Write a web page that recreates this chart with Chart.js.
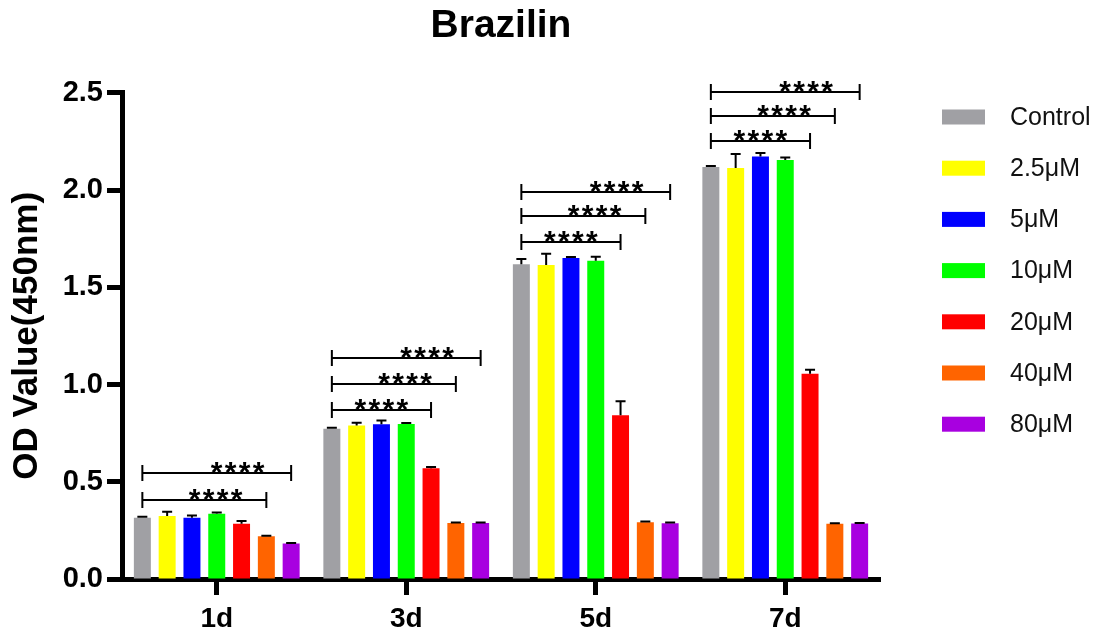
<!DOCTYPE html>
<html>
<head>
<meta charset="utf-8">
<script src="https://cdn.jsdelivr.net/npm/chart.js"></script>
<style>
html, body { margin: 0; padding: 0; background: #fff; }
</style>
</head>
<body>
<canvas id="odChart" width="1100" height="635"></canvas>
<script>
var days = ['1d', '3d', '5d', '7d'];
var groups = ['Control', '2.5μM', '5μM', '10μM', '20μM', '40μM', '80μM'];
var barColors = ['#a0a0a4', '#ffff00', '#0000ff', '#00ff00', '#ff0000', '#ff6400', '#a800e0'];

// mean OD per day
var control = [0.315, 0.773, 1.619, 2.119];
var c2_5    = [0.324, 0.789, 1.614, 2.113];
var c5      = [0.315, 0.796, 1.651, 2.172];
var c10     = [0.336, 0.797, 1.636, 2.155];
var c20     = [0.284, 0.569, 0.842, 1.056];
var c40     = [0.220, 0.288, 0.292, 0.284];
var c80     = [0.182, 0.288, 0.287, 0.285];
var odValues = [control, c2_5, c5, c10, c20, c40, c80];

// error (upper) per day
var eControl = [0.005, 0.005, 0.027, 0.004];
var e2_5     = [0.022, 0.015, 0.058, 0.072];
var e5       = [0.012, 0.019, 0.005, 0.019];
var e10      = [0.006, 0.005, 0.021, 0.012];
var e20      = [0.014, 0.007, 0.072, 0.020];
var e40      = [0.003, 0.003, 0.004, 0.003];
var e80      = [0.003, 0.003, 0.003, 0.003];
var odErrors = [eControl, e2_5, e5, e10, e20, e40, e80];

var yTicks = [0, 0.5, 1.0, 1.5, 2.0, 2.5];

// significance brackets: day, compared group (vs Control), height in OD
var sigDay    = [0, 0, 1, 1, 1, 2, 2, 2, 3, 3, 3];
var sigTo     = [5, 6, 4, 5, 6, 4, 5, 6, 4, 5, 6];
var sigHeight = [0.406, 0.544, 0.869, 1.003, 1.135, 1.732, 1.864, 1.992, 2.253, 2.382, 2.505];
var sigLabel  = '****';

var FONT = "'Liberation Sans', Arial, Helvetica, sans-serif";

var datasets = [];
for (var i = 0; i < groups.length; i++) {
  datasets.push({
    label: groups[i],
    data: odValues[i],
    backgroundColor: barColors[i],
    borderWidth: 0,
    categoryPercentage: 0.916,
    barPercentage: 0.685
  });
}

// error bars on top of each bar
var errorBars = {
  id: 'errorBars',
  afterDatasetsDraw: function(chart) {
    var ctx = chart.ctx;
    var y = chart.scales.y;
    ctx.save();
    ctx.strokeStyle = '#000';
    ctx.lineWidth = 2;
    for (var i = 0; i < odValues.length; i++) {
      var meta = chart.getDatasetMeta(i);
      for (var j = 0; j < odValues[i].length; j++) {
        var bar = meta.data[j];
        var top = y.getPixelForValue(odValues[i][j] + odErrors[i][j]);
        ctx.beginPath();
        ctx.moveTo(bar.x, bar.y);
        ctx.lineTo(bar.x, top);
        ctx.moveTo(bar.x - 5, top);
        ctx.lineTo(bar.x + 5, top);
        ctx.stroke();
      }
    }
    ctx.restore();
  }
};

// **** brackets
var starPos = {4: 0.5, 5: 0.59, 6: 0.64};
var brackets = {
  id: 'brackets',
  afterDatasetsDraw: function(chart) {
    var ctx = chart.ctx;
    var y = chart.scales.y;
    ctx.save();
    ctx.strokeStyle = '#000';
    ctx.fillStyle = '#000';
    ctx.lineWidth = 2;
    ctx.font = 'bold 30px ' + FONT;
    ctx.textAlign = 'center';
    ctx.textBaseline = 'alphabetic';
    for (var k = 0; k < sigDay.length; k++) {
      var x1 = chart.getDatasetMeta(0).data[sigDay[k]].x;
      var x2 = chart.getDatasetMeta(sigTo[k]).data[sigDay[k]].x;
      var py = Math.round(y.getPixelForValue(sigHeight[k]));
      ctx.beginPath();
      ctx.moveTo(x1, py); ctx.lineTo(x2, py);
      ctx.moveTo(x1, py - 8); ctx.lineTo(x1, py + 8);
      ctx.moveTo(x2, py - 8); ctx.lineTo(x2, py + 8);
      ctx.stroke();
      var cx = x1 + (x2 - x1) * starPos[sigTo[k]];
      for (var s = 0; s < sigLabel.length; s++) {
        ctx.fillText(sigLabel[s], cx + (s - 1.5) * 14, py + 9);
      }
    }
    ctx.restore();
  }
};

// legend on the right
var sideLegend = {
  id: 'sideLegend',
  afterDraw: function(chart) {
    var ctx = chart.ctx;
    ctx.save();
    ctx.font = '25px ' + FONT;
    ctx.textBaseline = 'middle';
    ctx.textAlign = 'left';
    for (var i = 0; i < groups.length; i++) {
      var cy = 117 + i * 51.2;
      ctx.fillStyle = barColors[i];
      ctx.fillRect(942, cy - 7.5, 43, 15);
      ctx.fillStyle = '#111';
      ctx.fillText(groups[i], 1010, cy + 1);
    }
    ctx.restore();
  }
};

var odChart = new Chart(document.getElementById('odChart'), {
  type: 'bar',
  data: {
    labels: days,
    datasets: datasets
  },
  options: {
    responsive: false,
    animation: false,
    devicePixelRatio: 1,
    layout: { padding: { left: 0, right: 220, top: 0, bottom: 0 } },
    plugins: {
      legend: { display: false },
      tooltip: { enabled: false },
      title: {
        display: true,
        text: 'Brazilin',
        fullSize: false,
        color: '#000',
        font: { family: FONT, size: 39, weight: 'bold', lineHeight: 1.2 },
        padding: { top: 3, bottom: 43 }
      }
    },
    scales: {
      x: {
        offset: true,
        afterFit: function(scale) { scale.height = 56; },
        grid: {
          display: true,
          drawOnChartArea: false,
          offset: false,
          tickLength: 16,
          tickWidth: 5,
          tickColor: '#000'
        },
        border: { display: true, color: '#000', width: 5 },
        ticks: {
          color: '#000',
          padding: 7,
          font: { family: FONT, size: 28, weight: 'bold' }
        }
      },
      y: {
        min: 0,
        max: 2.5,
        afterFit: function(scale) { scale.width = 122; },
        afterBuildTicks: function(scale) {
          scale.ticks = yTicks.map(function(v) { return { value: v }; });
        },
        grid: {
          display: true,
          drawOnChartArea: false,
          tickLength: 15,
          tickWidth: 5,
          tickColor: '#000'
        },
        border: { display: true, color: '#000', width: 5 },
        ticks: {
          color: '#000',
          padding: 4,
          font: { family: FONT, size: 29, weight: 'bold' },
          callback: function(v) { return Number(v).toFixed(1); }
        },
        title: {
          display: true,
          text: 'OD Value(450nm)',
          color: '#000',
          font: { family: FONT, size: 35, weight: 'bold', lineHeight: 1.2 },
          padding: { top: 6, bottom: 0 }
        }
      }
    }
  },
  plugins: [errorBars, brackets, sideLegend]
});
</script>
</body>
</html>
